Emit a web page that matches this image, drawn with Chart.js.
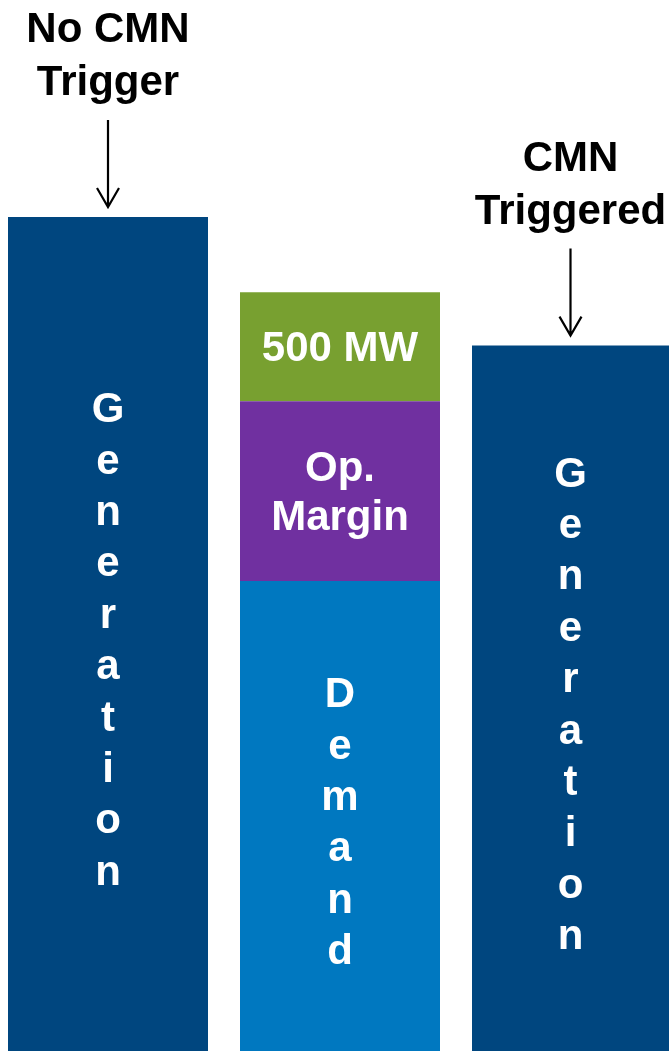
<!DOCTYPE html>
<html>
<head>
<meta charset="utf-8">
<script src="https://cdn.jsdelivr.net/npm/chart.js@4"></script>
<style>
  html, body { margin: 0; padding: 0; background: #fff; overflow: hidden; }
  #wrap { position: absolute; left: -8px; top: 0; width: 696px; height: 1051px; }
</style>
</head>
<body>
<div id="wrap"><canvas id="graficoCMN"></canvas></div>
<script>
// dados (MW, estimados a partir da figura)
const categories = ['No CMN Trigger', 'Demand', 'CMN Triggered'];
const generation = [3825, null, 3235];
const demand = [null, 2155, null];
const opMargin = [null, 825, null];
const cmnBlock = [null, 500, null];

// textos
const headTitles = [['No CMN', 'Trigger'], null, ['CMN', 'Triggered']];
const segmentLines = [
    'Generation'.split(''),
    'Demand'.split(''),
    ['Op.', 'Margin'],
    ['500 MW']
];

const FONT = '"Liberation Sans", Arial, sans-serif';
const VIEW_RIGHT = 677; // borda direita visível, em coordenadas do canvas

// rótulos dentro das barras + títulos com setas
const barText = {
    id: 'barText',
    afterDatasetsDraw(chart) {
        const ctx = chart.ctx;
        const visibleCenter = bar => {
            const l = bar.x - bar.width / 2;
            const r = Math.min(bar.x + bar.width / 2, VIEW_RIGHT);
            return (l + r) / 2;
        };
        ctx.save();
        ctx.textAlign = 'center';
        ctx.textBaseline = 'middle';
        ctx.fillStyle = '#ffffff';
        ctx.font = 'bold 42px ' + FONT;
        chart.data.datasets.forEach((ds, i) => {
            const lines = segmentLines[i];
            const vertical = lines.length > 2;
            const lh = vertical ? 51.4 : 49;
            const shift = vertical ? 8 : 3;
            chart.getDatasetMeta(i).data.forEach((bar, j) => {
                if (ds.data[j] == null) return;
                const cy = (bar.y + bar.base) / 2 + shift;
                const y0 = cy - (lines.length - 1) * lh / 2;
                const x = vertical ? visibleCenter(bar) : bar.x;
                lines.forEach((t, k) => ctx.fillText(t, x, y0 + k * lh));
            });
        });

        // títulos acima das barras de geração
        const meta = chart.getDatasetMeta(0);
        ctx.fillStyle = '#000000';
        ctx.strokeStyle = '#000000';
        ctx.lineWidth = 2.2;
        ctx.font = 'bold 42px ' + FONT;
        ctx.textBaseline = 'alphabetic';
        headTitles.forEach((title, j) => {
            if (!title) return;
            const bar = meta.data[j];
            const x = visibleCenter(bar);
            const tip = bar.y - 10;
            const start = tip - 87;
            ctx.beginPath();
            ctx.moveTo(x, start);
            ctx.lineTo(x, tip);
            ctx.moveTo(x - 11, tip - 19);
            ctx.lineTo(x, tip);
            ctx.lineTo(x + 11, tip - 19);
            ctx.stroke();
            ctx.fillText(title[1], x, start - 25);
            ctx.fillText(title[0], x, start - 78);
        });
        ctx.restore();
    }
};

const ctxCMN = document.getElementById('graficoCMN');

new Chart(ctxCMN, {
    type: 'bar',
    data: {
        labels: categories,
        datasets: [
            { label: 'Generation', data: generation, backgroundColor: '#00467f' },
            { label: 'Demand', data: demand, backgroundColor: '#0078c0' },
            { label: 'Op. Margin', data: opMargin, backgroundColor: '#7030a0' },
            { label: '500 MW', data: cmnBlock, backgroundColor: '#78a030' }
        ]
    },
    options: {
        responsive: true,
        maintainAspectRatio: false,
        animation: false,
        layout: { padding: 0 },
        datasets: {
            bar: { categoryPercentage: 1, barPercentage: 200 / 232, borderWidth: 0 }
        },
        plugins: {
            legend: { display: false },
            tooltip: { enabled: false }
        },
        scales: {
            x: { display: false, stacked: true },
            y: { display: false, stacked: true, min: 0, max: 4820 }
        }
    },
    plugins: [barText]
});
</script>
</body>
</html>
